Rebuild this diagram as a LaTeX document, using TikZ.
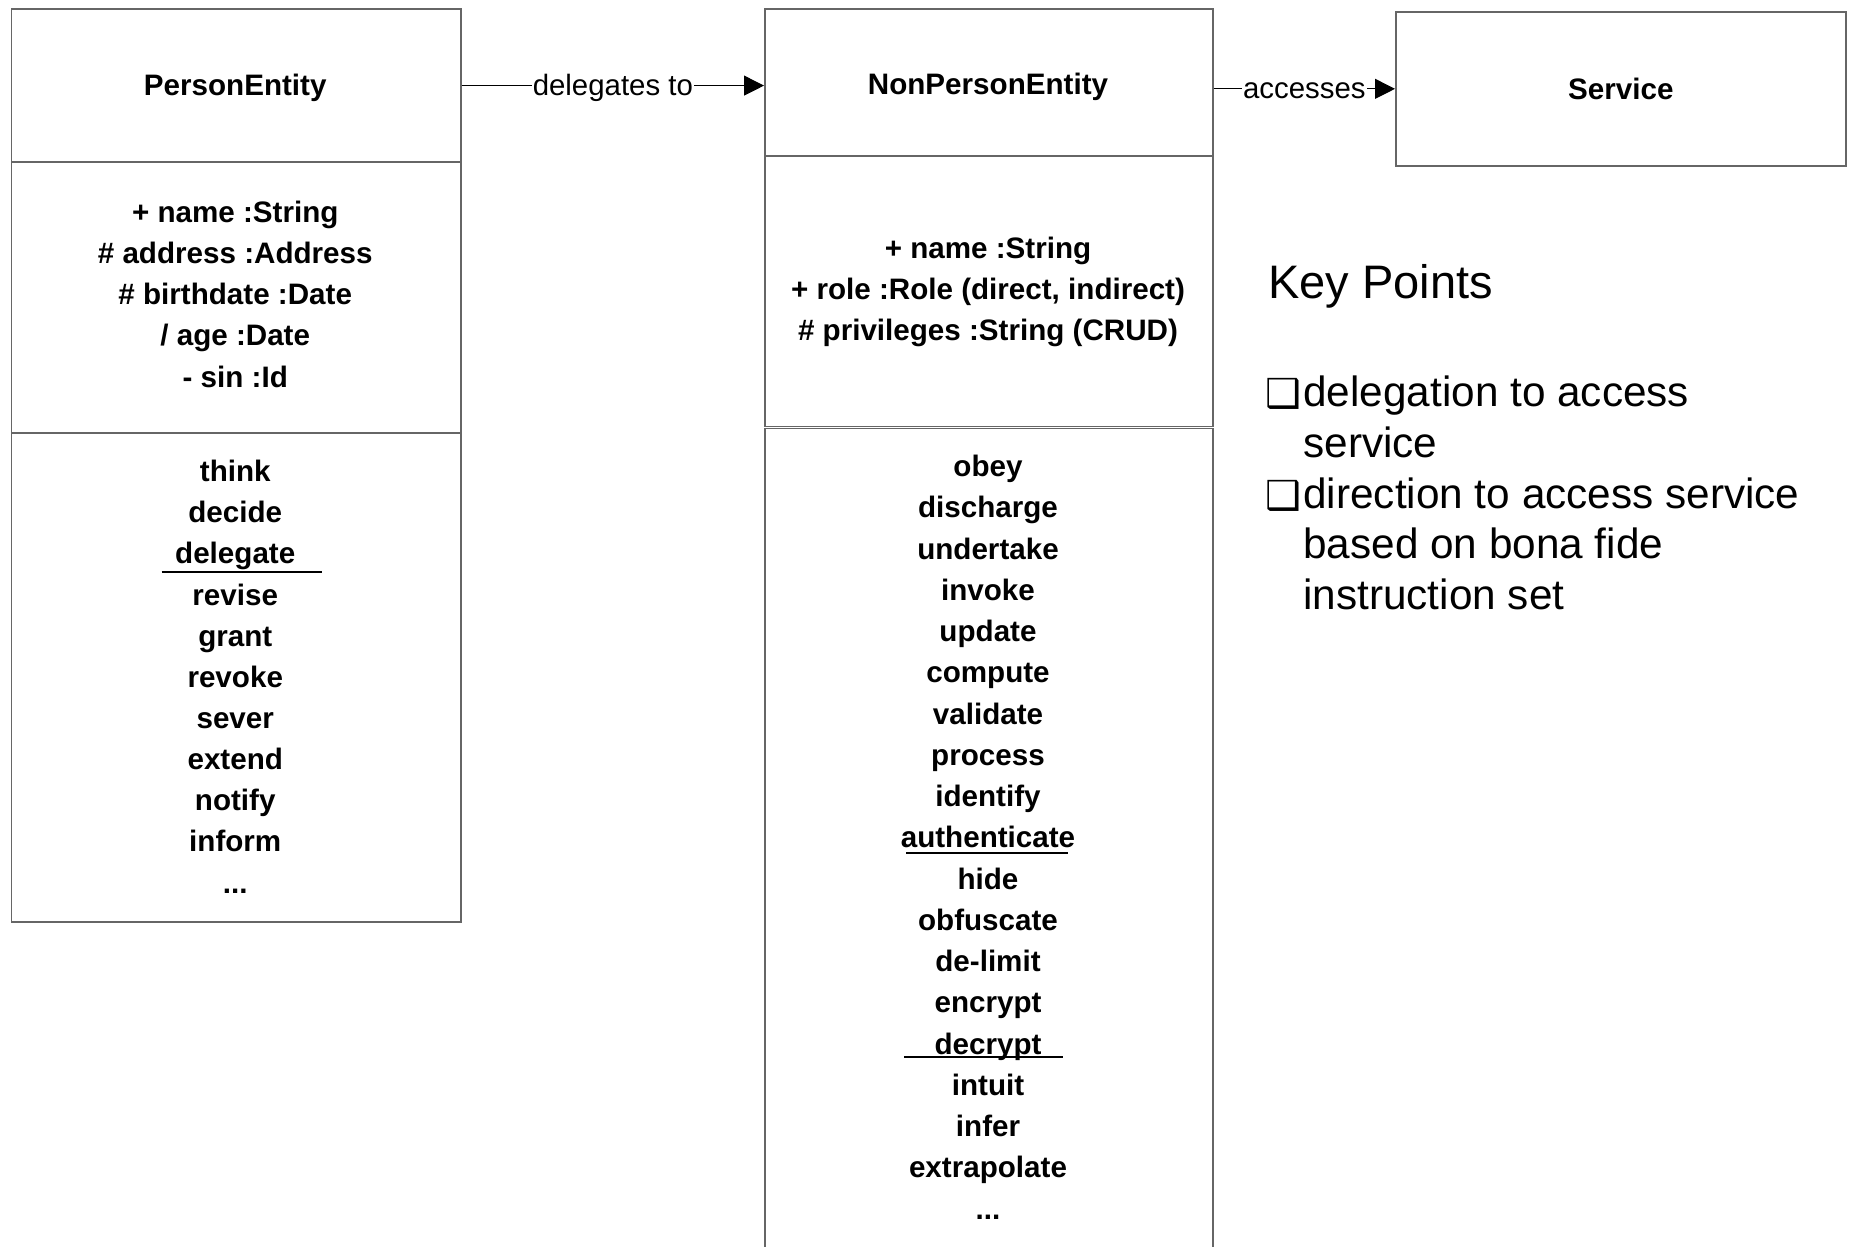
\documentclass[tikz,border=0pt]{standalone}
\usepackage{fontspec}
\setmainfont{Liberation Sans}
\newfontfamily\symbfont{DejaVu Sans}
\usetikzlibrary{arrows.meta}

\begin{document}
\begin{tikzpicture}[x=0.5pt,y=-0.5pt,
  frame/.style={draw=black!60, line width=0.85pt, inner sep=0pt, anchor=north west,
                font=\fontsize{14.8pt}{20.6pt}\selectfont\bfseries},
  item/.style={font=\fontsize{14.8pt}{20.6pt}\selectfont\bfseries, anchor=base, inner sep=0pt},
  conn/.style={draw=black, line width=0.55pt, -{Triangle[length=10pt,width=10pt]}},
  lbl/.style={font=\fontsize{14.7pt}{18pt}\selectfont, fill=white, inner xsep=0.5pt,
              inner ysep=1pt, anchor=base, yshift=-5pt},
  strike/.style={draw=black, line width=1pt},
  kp/.style={anchor=base west, inner sep=0pt, font=\fontsize{21.15pt}{25pt}\selectfont},
  kpbox/.style={anchor=base west, inner sep=0pt, font=\symbfont\fontsize{20pt}{24pt}\selectfont},
]
\useasboundingbox (0,0) rectangle (1849,1247);
\clip (0,0) rectangle (1849,1247);
\fill[white] (0,0) rectangle (1849,1247);

% ---- PersonEntity class ----
\node[frame, minimum width=224.75pt, minimum height=76.75pt] (peHead) at (10.5,8) {};
\node[frame, minimum width=224.75pt, minimum height=135.25pt] (peAttr) at (10.5,161.5) {};
\node[frame, minimum width=224.75pt, minimum height=244.5pt] (peOps) at (10.5,432) {};
\node[item] (peTitle) at (235.25,95.5) {PersonEntity};

\foreach \t [count=\i from 0] in {{+ name :String},{\# address :Address},{\# birthdate :Date},{/ age :Date},{- sin :Id}}
  \node[item] (pa\i) at (235.25,{222+41.3*\i}) {\t};

\foreach \t [count=\i from 0] in {think,decide,delegate,revise,grant,revoke,sever,extend,notify,inform}
  \node[item] (po\i) at (235.25,{481.7+41.1*\i}) {\t};
\node[item] (poMore) at (235.25,893) {...};
\draw[strike] (161.7,571.5) -- (321.7,571.5);

% ---- NonPersonEntity class ----
\node[frame, minimum width=224pt, minimum height=73.5pt] (npeHead) at (764,8) {};
\node[frame, minimum width=224pt, minimum height=135.35pt] (npeAttr) at (764,155) {};
\node[frame, minimum width=224pt, minimum height=412.15pt] (npeOps) at (764,427.7) {};
\node[item] (npeTitle) at (988,95) {NonPersonEntity};

\foreach \t [count=\i from 0] in {{+ name :String},{+ role :Role (direct, indirect)},{\# privileges :String (CRUD)}}
  \node[item] (na\i) at (988,{258+41.2*\i}) {\t};

\foreach \t [count=\i from 0] in {obey,discharge,undertake,invoke,update,compute,validate,process,identify,authenticate,hide,obfuscate,de-limit,encrypt,decrypt,intuit,infer,extrapolate}
  \node[item] (no\i) at (988,{476.7+41.25*\i}) {\t};
\node[item] (noMore) at (988,1219) {...};
\draw[strike] (906,853) -- (1068,853);
\draw[strike] (904,1057) -- (1063,1057);

% ---- Service ----
\node[frame, minimum width=225pt, minimum height=77pt] (svc) at (1395,11) {Service};

% ---- relations ----
\draw[conn] (peHead.east) -- node[lbl] (dlg) {delegates to} (peHead.east -| npeHead.west);
\draw[conn] (npeHead.east |- svc.west) -- node[lbl] (acc) {accesses} (svc.west);

% ---- key points ----
\node[anchor=base west, inner sep=0pt, font=\fontsize{23.5pt}{28pt}\selectfont] (kpT) at (1268,298) {Key Points};
\node[kpbox] (kb1) at (1265,407.5) {❑};
\node[kp] (k1) at (1303,406.5) {delegation to access};
\node[kp] (k2) at (1303,457.3) {service};
\node[kpbox] (kb2) at (1265,509.1) {❑};
\node[kp] (k3) at (1303,508.1) {direction to access service};
\node[kp] (k4) at (1303,558.9) {based on bona fide};
\node[kp] (k5) at (1303,609.7) {instruction set};
\end{tikzpicture}
\end{document}
